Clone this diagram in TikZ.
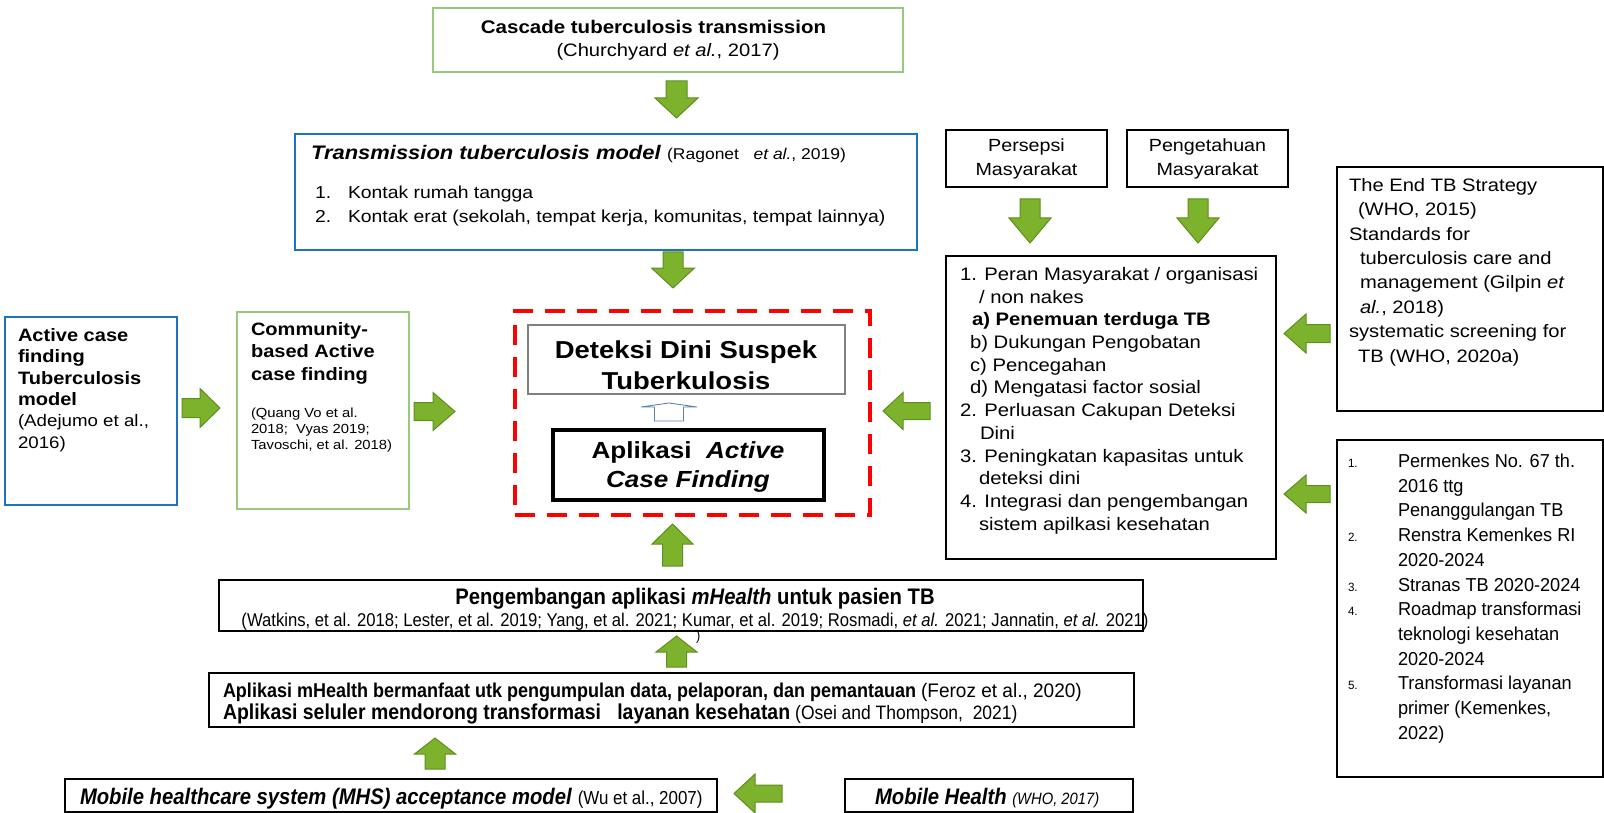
\documentclass[tikz,border=0pt]{standalone}
\usepackage{fontspec}
\setmainfont{Liberation Sans}[FakeStretch=1.12]
\newfontfamily\narrowfont{Liberation Sans}[FakeStretch=0.9]
\newfontfamily\listfont{Liberation Sans}[FakeStretch=0.97]
\usetikzlibrary{calc}

\definecolor{arrowfill}{HTML}{7DB22C}
\definecolor{arrowedge}{HTML}{5E8E20}
\definecolor{modelblue}{HTML}{1E73BE}
\definecolor{refgreen}{HTML}{9BC97B}
\definecolor{focusred}{HTML}{FF0000}
\definecolor{softgray}{HTML}{808080}
\definecolor{hollowblue}{HTML}{5A82B0}

\newcommand\fs[2]{\fontsize{#1}{#2}\selectfont}

\tikzset{
  box/.style={draw=black, line width=1.3pt, rectangle, inner sep=0pt, outer sep=0pt},
  txt/.style={inner sep=0pt, outer sep=0pt, align=left, anchor=north west},
  line/.style={inner sep=0pt, outer sep=0pt, anchor=base west},
  fat/.style={fill=arrowfill, draw=arrowedge, line width=1pt, line join=miter},
  hollow/.style={draw=hollowblue, line width=0.9pt, fill=white, line join=miter},
}

% block arrow: #1 style, #2 tail, #3 tip, #4 half shaft, #5 half head, #6 head length
\newcommand\blockarrow[6]{%
  \coordinate (ba-t) at #2;
  \coordinate (ba-h) at #3;
  \coordinate (ba-n) at ($(ba-h)!#6!(ba-t)$);
  \draw[#1] ($(ba-t)!#4!90:(ba-h)$) -- ($(ba-n)!#4!-90:(ba-t)$)
    -- ($(ba-n)!#5!-90:(ba-t)$) -- (ba-h) -- ($(ba-n)!#5!90:(ba-t)$)
    -- ($(ba-n)!#4!90:(ba-t)$) -- ($(ba-t)!#4!-90:(ba-h)$) -- cycle;}

\begin{document}
\begin{tikzpicture}[x=1pt,y=-1pt]
\useasboundingbox (0,0) rectangle (1604,813);

% ---------- top chain ----------
\node[box, draw=refgreen, line width=1.5pt, minimum width=470pt, minimum height=64pt,
      align=center, font=\fs{18.3}{23}] (cascade) at (668,40)
  {\textbf{Cascade tuberculosis transmission}\hspace*{29pt}\\{\fs{18}{23}(Churchyard \textit{et al.}, 2017)}};

\node[box, draw=modelblue, line width=2.2pt, minimum width=622pt, minimum height=116pt] (trans) at (606,192) {};
\node[line, font=\fs{19.6}{24}] (transtitle) at (311,160)
  {\textbf{\textit{Transmission tuberculosis model}} {\fs{15.6}{24}(Ragonet\ \ \ \textit{et al.}, 2019)}};
\node[txt, font=\fs{17.3}{24}] (translist) at (315,185.6)
  {\makebox[33pt][l]{1.}Kontak rumah tangga\\
   \makebox[33pt][l]{2.}Kontak erat (sekolah, tempat kerja, komunitas, tempat lainnya)};

% ---------- community perception ----------
\node[box, minimum width=161pt, minimum height=57pt, align=center, font=\fs{17.6}{24}]
  (persepsi) at (1026.5,158.5) {Persepsi\\Masyarakat};
\node[box, minimum width=161pt, minimum height=57pt, align=center, font=\fs{17.6}{24}]
  (pengetahuan) at (1207.5,158.5) {Pengetahuan\\Masyarakat};

\node[box, minimum width=330pt, minimum height=303pt] (peran) at (1111,407.5) {};
\node[txt, font=\fs{18.1}{22.7}] (perantext) at (960,267.3)
  {1. Peran Masyarakat / organisasi\\
   \hspace*{19pt}/ non nakes\\
   \hspace*{12pt}\textbf{a) Penemuan terduga TB}\\
   \hspace*{10pt}b) Dukungan Pengobatan\\
   \hspace*{10pt}c) Pencegahan\\
   \hspace*{10pt}d) Mengatasi factor sosial\\
   2. Perluasan Cakupan Deteksi\\
   \hspace*{20pt}Dini\\
   3. Peningkatan kapasitas untuk\\
   \hspace*{19pt}deteksi dini\\
   4. Integrasi dan pengembangan\\
   \hspace*{19pt}sistem apilkasi kesehatan};

% ---------- policy references ----------
\node[box, minimum width=266pt, minimum height=244pt] (endtb) at (1470,289) {};
\node[txt, font=\fs{18}{24.4}] (endtbtext) at (1349,178.3)
  {The End TB Strategy\\
   \hspace*{9pt}(WHO, 2015)\\
   Standards for\\
   \hspace*{11pt}tuberculosis care and\\
   \hspace*{11pt}management (Gilpin \textit{et}\\
   \hspace*{11pt}\textit{al.}, 2018)\\
   systematic screening for\\
   \hspace*{9pt}TB (WHO, 2020a)};

\node[box, minimum width=266pt, minimum height=337pt] (perm) at (1470,608.5) {};
\node[txt, font=\listfont\fs{18.7}{24.7}] (permtext) at (1348,454)
  {\makebox[50pt][l]{\fs{12}{24.7}1.}Permenkes No. 67 th.\\
   \hspace*{50pt}2016 ttg\\
   \hspace*{50pt}Penanggulangan TB\\
   \makebox[50pt][l]{\fs{12}{24.7}2.}Renstra Kemenkes RI\\
   \hspace*{50pt}2020-2024\\
   \makebox[50pt][l]{\fs{12}{24.7}3.}Stranas TB 2020-2024\\
   \makebox[50pt][l]{\fs{12}{24.7}4.}Roadmap transformasi\\
   \hspace*{50pt}teknologi kesehatan\\
   \hspace*{50pt}2020-2024\\
   \makebox[50pt][l]{\fs{12}{24.7}5.}Transformasi layanan\\
   \hspace*{50pt}primer (Kemenkes,\\
   \hspace*{50pt}2022)};

% ---------- left models ----------
\node[box, draw=modelblue, line width=2.5pt, minimum width=172pt, minimum height=188pt] (active) at (91,411) {};
\node[txt, font=\fs{17.9}{21.4}] (activetext) at (18,328.4)
  {\textbf{Active case}\\\textbf{finding}\\\textbf{Tuberculosis}\\\textbf{model}\\{\fs{16.7}{21.4}(Adejumo et al.,}\\{\fs{16.7}{21.4}2016)}};

\node[box, draw=refgreen, line width=1.5pt, minimum width=172pt, minimum height=197pt] (community) at (323,410.5) {};
\node[txt, font=\fs{17.9}{22.5}] (commtitle) at (251,322.4)
  {\textbf{Community-}\\\textbf{based Active}\\\textbf{case finding}};
\node[txt, font=\fs{13.2}{16}] (commcite) at (251,408)
  {(Quang Vo et al.\\2018;\ \ Vyas 2019;\\Tavoschi, et al. 2018)};

% ---------- focus: early detection ----------
\node[draw=focusred, line width=4.2pt, dash pattern=on 20pt off 12pt, inner sep=0pt,
      minimum width=355pt, minimum height=204pt] (focus) at (692.5,413) {};
\node[box, draw=softgray, line width=1.4pt, minimum width=317pt, minimum height=69pt] (deteksi) at (686.5,359.5) {};
\node[inner sep=0pt, anchor=north, align=center, font=\bfseries\fs{24.5}{31}] (deteksitext) at (686,340.8)
  {Deteksi Dini Suspek\\Tuberkulosis};
\node[box, line width=3.2pt, minimum width=271pt, minimum height=70pt] (aplikasi) at (688.5,465) {};
\node[inner sep=0pt, anchor=north, align=center, font=\bfseries\fs{23.3}{29}] (aplikasitext) at (688,441.4)
  {Aplikasi\ \ \textit{Active}\\\textit{Case Finding}};

% ---------- mHealth chain ----------
\node[box, minimum width=924pt, minimum height=51pt] (pengembangan) at (681,605.5) {};
\node[inner sep=0pt, anchor=north, align=center, font=\narrowfont\fs{22.5}{22}] (pengtext) at (695,587.7)
  {\textbf{Pengembangan aplikasi \textit{mHealth} untuk pasien TB}\\
   {\fs{18.5}{22}(Watkins, et al. 2018; Lester, et al. 2019; Yang, et al. 2021; Kumar, et al. 2019; Rosmadi, \textit{et al.} 2021; Jannatin, \textit{et al.} 2021)}};
\node[inner sep=0pt, anchor=north west, font=\narrowfont\fs{14}{16}] (stray) at (696,630) {)};

\node[box, minimum width=925pt, minimum height=54pt] (mhealth) at (671.5,700) {};
\node[txt, font=\narrowfont\fs{20}{22}] (mhealthtext) at (223,682.6)
  {\textbf{Aplikasi mHealth bermanfaat utk pengumpulan data, pelaporan, dan pemantauan} {\listfont\fs{19.6}{22}(Feroz et al., 2020)}\\
   {\fs{21.6}{22}\textbf{Aplikasi seluler mendorong transformasi\ \ \ layanan kesehatan}} {\fs{19.4}{22}(Osei and Thompson,\ \ 2021)}};

\node[box, minimum width=652pt, minimum height=33pt] (mhs) at (391,795.5) {};
\node[line, font=\narrowfont\fs{22.5}{24}] (mhstext) at (80,804)
  {\textbf{\textit{Mobile healthcare system (MHS) acceptance model}} {\fs{18.8}{24}(Wu et al., 2007)}};
\node[box, minimum width=288pt, minimum height=33pt] (mobilehealth) at (989,795.5) {};
\node[line, font=\narrowfont\fs{22.5}{24}] (mobiletext) at (875,804)
  {\textbf{\textit{Mobile Health}} {\fs{16.4}{24}\textit{(WHO, 2017)}}};

% ---------- block arrows ----------
\coordinate (a1s) at (676.5,81);   \coordinate (a1e) at (676.5,118);
\blockarrow{fat}{(a1s)}{(a1e)}{10.5pt}{21.5pt}{20pt}
\coordinate (a2s) at (673,252);    \coordinate (a2e) at (673,288);
\blockarrow{fat}{(a2s)}{(a2e)}{10pt}{21.5pt}{20pt}
\coordinate (a3s) at (1030,199);   \coordinate (a3e) at (1030,243);
\blockarrow{fat}{(a3s)}{(a3e)}{10pt}{21pt}{25pt}
\coordinate (a4s) at (1198,199);   \coordinate (a4e) at (1198,243);
\blockarrow{fat}{(a4s)}{(a4e)}{10pt}{21pt}{25pt}
\coordinate (a5s) at (182,408);    \coordinate (a5e) at (220,408);
\blockarrow{fat}{(a5s)}{(a5e)}{9.5pt}{19.5pt}{20pt}
\coordinate (a6s) at (414,411.5);  \coordinate (a6e) at (455,411.5);
\blockarrow{fat}{(a6s)}{(a6e)}{9pt}{19pt}{22pt}
\coordinate (a7s) at (930,411);    \coordinate (a7e) at (883,411);
\blockarrow{fat}{(a7s)}{(a7e)}{8.5pt}{18.5pt}{20pt}
\coordinate (a8s) at (1330,333.5); \coordinate (a8e) at (1284,333.5);
\blockarrow{fat}{(a8s)}{(a8e)}{9pt}{19.5pt}{22pt}
\coordinate (a9s) at (1330,494);   \coordinate (a9e) at (1284,494);
\blockarrow{fat}{(a9s)}{(a9e)}{8.5pt}{19pt}{22pt}
\coordinate (a10s) at (672.5,566); \coordinate (a10e) at (672.5,524);
\blockarrow{fat}{(a10s)}{(a10e)}{10pt}{20.5pt}{20pt}
\coordinate (a11s) at (676.5,667); \coordinate (a11e) at (676.5,636);
\blockarrow{fat}{(a11s)}{(a11e)}{10pt}{20.5pt}{16pt}
\coordinate (a12s) at (435,769);   \coordinate (a12e) at (435,738);
\blockarrow{fat}{(a12s)}{(a12e)}{10pt}{20.5pt}{16pt}
\coordinate (a13s) at (782,793.5); \coordinate (a13e) at (734,793.5);
\blockarrow{fat}{(a13s)}{(a13e)}{8.5pt}{19.5pt}{21pt}

% hollow arrow inside the focus area
\coordinate (h1s) at (669,421);    \coordinate (h1e) at (669,403);
\blockarrow{hollow}{(h1s)}{(h1e)}{14.5pt}{28pt}{4pt}
\end{tikzpicture}
\end{document}
